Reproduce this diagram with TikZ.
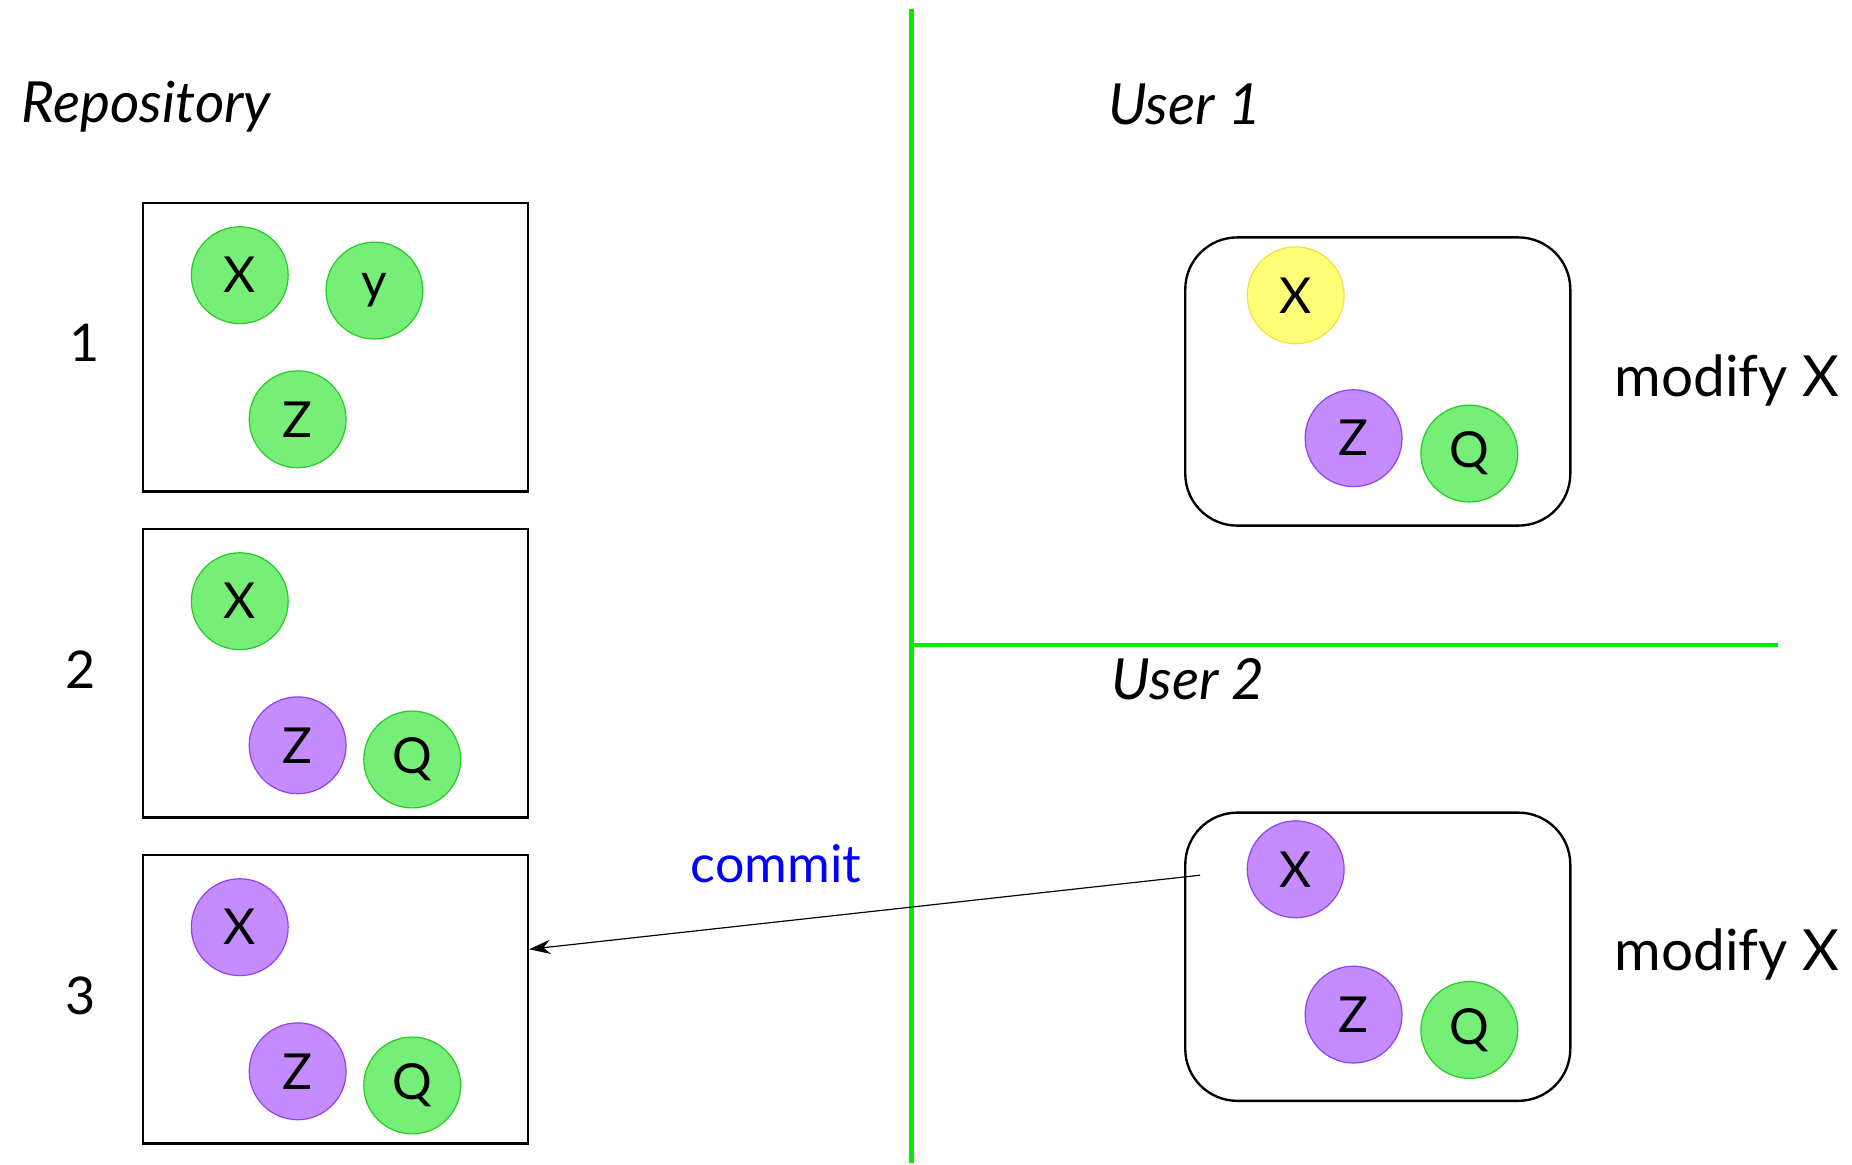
\documentclass[tikz,border=0pt]{standalone}
\usepackage{fontspec}
\setmainfont{Lato}
\usetikzlibrary{arrows.meta,calc}
\definecolor{gfill}{HTML}{77EE77}
\definecolor{gline}{HTML}{22CC22}
\definecolor{pfill}{HTML}{C48CFF}
\definecolor{pline}{HTML}{9040EE}
\definecolor{yfill}{HTML}{FFFF77}
\definecolor{yline}{HTML}{F0E040}
\definecolor{divider}{HTML}{00EE00}
\begin{document}
\begin{tikzpicture}[x=0.5pt,y=-0.5pt,
  repobox/.style={draw=black,line width=1pt,minimum width=163pt,minimum height=122pt,inner sep=0pt},
  userbox/.style={draw=black,line width=1pt,rounded corners=22pt,minimum width=163pt,minimum height=122pt,inner sep=0pt},
  item/.style={circle,minimum size=41pt,inner sep=0pt,line width=0.5pt,font=\fontsize{21}{21}\selectfont},
  gitem/.style={item,fill=gfill,draw=gline},
  pitem/.style={item,fill=pfill,draw=pline},
  yitem/.style={item,fill=yfill,draw=yline},
  title/.style={font=\fontsize{24}{24}\selectfont\itshape},
  num/.style={font=\fontsize{22}{22}\selectfont},
  side/.style={font=\fontsize{24}{24}\selectfont},
  divline/.style={draw=divider,line width=2pt}]
\useasboundingbox (0,0) rectangle (1568,986);
\fill[white] (0,0) rectangle (1568,986);

% dividers
\coordinate (vtop) at (772,8);
\coordinate (vbot) at (772,985);
\coordinate (hleft) at (772,546);
\coordinate (hright) at (1505,546);
\draw[divline] (vtop) -- (vbot);
\draw[divline] (hleft) -- (hright);

% titles
\node[title] (trepo) at (124,90) {Repository};
\node[title] (tu1) at (1003,88) {User 1};
\node[title] (tu2) at (1006,575) {User 2};

% repository boxes
\node[repobox] (box1) at (284,294) {};
\node[repobox] (box2) at (284,570) {};
\node[repobox] (box3) at (284,846) {};
\node[num] (n1) at (72,290) {1};
\node[num] (n2) at (68,567) {2};
\node[num] (n3) at (68,843) {3};

\node[gitem] (b1x) at (203,233) {X};
\node[gitem] (b1y) at (317,246) {y};
\node[gitem] (b1z) at (252,355) {Z};

\node[gitem] (b2x) at (203,509) {X};
\node[pitem] (b2z) at (252,631) {Z};
\node[gitem] (b2q) at (349,643) {Q};

\node[pitem] (b3x) at (203,785) {X};
\node[pitem] (b3z) at (252,907) {Z};
\node[gitem] (b3q) at (349,919) {Q};

% user boxes
\node[userbox] (u1) at (1166.5,323) {};
\node[yitem] (u1x) at (1097,250) {X};
\node[pitem] (u1z) at (1146,371) {Z};
\node[gitem] (u1q) at (1244,384) {Q};
\node[side] (m1) at (1462,322) {modify X};

\node[userbox] (u2) at (1166.5,810) {};
\node[pitem] (u2x) at (1097,736) {X};
\node[pitem] (u2z) at (1146,859) {Z};
\node[gitem] (u2q) at (1244,872) {Q};
\node[side] (m2) at (1462,808) {modify X};

% commit arrow
\coordinate (cstart) at (1016,741);
\draw[line width=0.5pt,-{Stealth[length=9pt,width=6pt]}] (cstart) -- ($(box3.north east)!0.328!(box3.south east)$);
\node[side,text=blue,font=\fontsize{22}{22}\selectfont] (commit) at (657,731) {commit};
\end{tikzpicture}
\end{document}
